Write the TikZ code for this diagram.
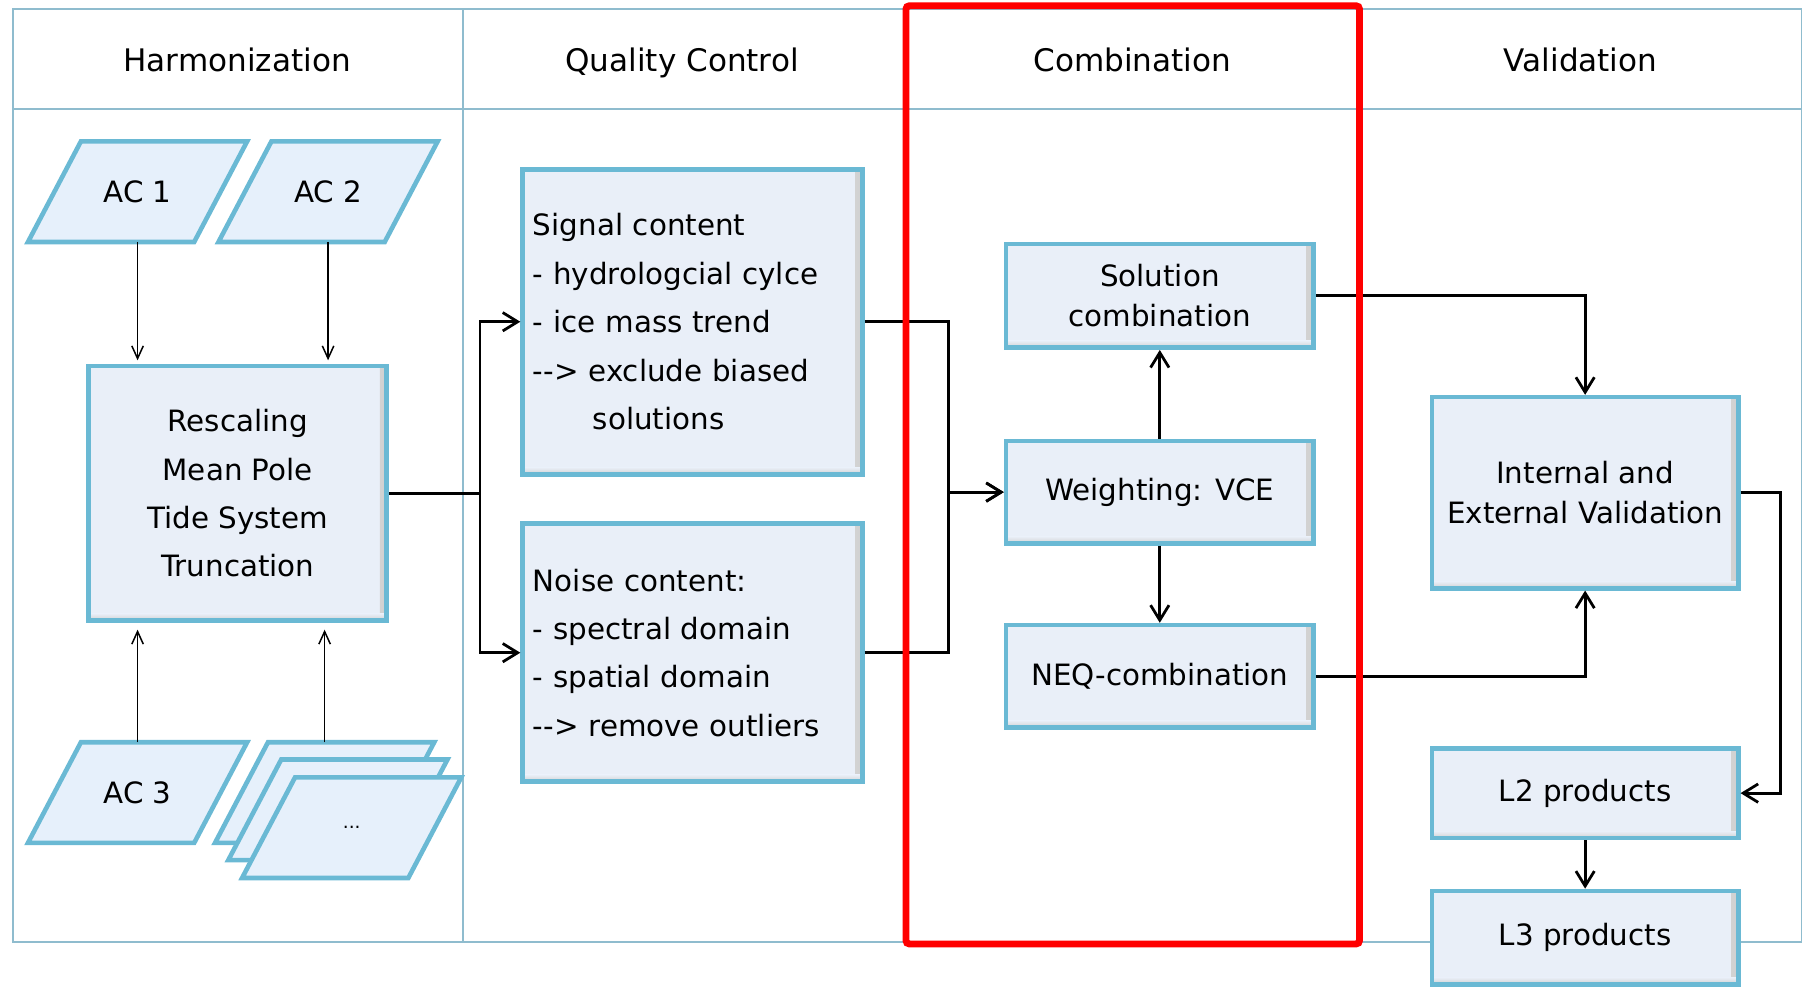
\documentclass[tikz,border=0pt]{standalone}
\usepackage{fontspec}
\newfontfamily\dvs{DejaVu Sans}
\usepackage{tikz}
\usetikzlibrary{arrows.meta,positioning,calc,backgrounds}

\definecolor{boxfill}{HTML}{E9EFF8}
\definecolor{boxline}{HTML}{6AB9D4}
\definecolor{parafill}{HTML}{E6F0FB}
\definecolor{laneline}{HTML}{8FBCCE}

\begin{document}
\begin{tikzpicture}[x=1pt, y=-1pt,
    box/.style={draw=boxline, line width=4pt, fill=boxfill, align=center, inner sep=6pt,
      font=\dvs\fontsize{25.5}{42}\selectfont,
      path picture={
        \shade[left color=boxfill, right color=black!18] ([xshift=-6pt]path picture bounding box.north east) rectangle (path picture bounding box.south east);
        \shade[top color=boxfill, bottom color=black!18] ([yshift=6pt]path picture bounding box.south west) rectangle (path picture bounding box.south east);}},
    tight/.style={font=\dvs\fontsize{25.5}{35}\selectfont},
    listbox/.style={box, align=left, text width=277pt, inner xsep=9pt},
    acnode/.style={minimum width=144pt, minimum height=87pt, inner sep=0pt, font=\dvs\fontsize{25.5}{30}\selectfont},
    para/.style={draw=boxline, line width=4pt, fill=parafill},
    hdr/.style={anchor=base, font=\dvs\fontsize{27}{32}\selectfont},
    lane/.style={draw=laneline, line width=1.5pt},
    thinarr/.style={line width=1.3pt, -{Straight Barb[length=11pt,width=10pt]}},
    arr/.style={line width=2.4pt, -{Straight Barb[length=13pt,width=16pt]}},
    redbox/.style={draw=red, line width=6pt, rounded corners=3pt}
  ]
    \useasboundingbox (0,0) rectangle (1568,859);

    \node[hdr] (hHarm) at (206,62) {Harmonization};
    \node[hdr] (hQual) at (592.5,62) {Quality Control};
    \node[hdr] (hComb) at (983.5,62) {Combination};
    \node[hdr] (hVal) at (1373,62) {Validation};

    \node[acnode] (ac1) at (119.5,166.5) {AC 1};
    \node[acnode] (ac2) at (285,166.5) {AC 2};
    \node[acnode] (ac3) at (119.5,688.5) {AC 3};
    \node[acnode] (acb) at (282,688.5) {};
    \node[acnode] (acm) at (293.5,703.5) {};
    \node[acnode, font=\dvs\fontsize{16}{18}\selectfont] (acf) at (305.5,719) {...};

    \node[box, minimum width=259pt, minimum height=221pt] (resc) at (206.5,428.5) {Rescaling\\Mean Pole\\Tide System\\Truncation};

    \node[listbox, minimum height=265pt] (sig) at (601.5,279.5) {Signal content\\- hydrologcial cylce\\- ice mass trend\\-{}-> exclude biased\\\hspace*{52pt}solutions};
    \node[listbox, minimum height=224pt, below=39pt of sig] (noise) {Noise content:\\- spectral domain\\- spatial domain\\-{}-> remove outliers};

    \node[box, minimum width=267pt, minimum height=89pt] (wgt) at (1007.5,427.5) {Weighting: VCE};
    \node[box, tight, minimum width=267pt, minimum height=90pt, above=77pt of wgt] (sol) {Solution\\combination};
    \node[box, minimum width=267pt, minimum height=89pt, below=67pt of wgt] (neq) {NEQ-combination};

    \node[box, tight, minimum width=266pt, minimum height=166pt] (val) at (1377,428) {Internal and\\External Validation};
    \node[box, minimum width=266pt, minimum height=78pt, below=135pt of val] (l2) {L2 products};
    \node[box, minimum width=266pt, minimum height=81pt, below=42pt of l2] (l3) {L3 products};

    \begin{scope}[on background layer]
      \draw[lane] (11,8) rectangle (1565,818) (11,95) -- (1565,95);
      \foreach \xl in {402,785,1180}
        \draw[lane] (\xl,8) -- (\xl,818);
      \foreach \n in {ac1,ac2,ac3,acb,acm,acf}
        \draw[para] ($(\n.south west)+(-23,0)$) -- ($(\n.south east)+(-23,0)$) -- ($(\n.north east)+(23,0)$) -- ($(\n.north west)+(23,0)$) -- cycle;
    \end{scope}

    \draw[thinarr, shorten >=3pt] (ac1) -- (ac1 |- resc.north);
    \draw[thinarr, shorten >=3pt] (ac2) -- (ac2 |- resc.north);
    \draw[thinarr, shorten >=6pt] (ac3) -- (ac3 |- resc.south);
    \draw[thinarr, shorten >=6pt] (acb) -- (acb |- resc.south);

    \draw[arr] (resc.east) -- ++(79,0) |- (sig.west);
    \draw[arr] (resc.east) -- ++(79,0) |- (noise.west);
    \draw[arr] (sig.east) -- ++(73,0) |- (wgt.west);
    \draw[arr] (noise.east) -- ++(73,0) |- (wgt.west);
    \draw[arr] (wgt) -- (sol);
    \draw[arr] (wgt) -- (neq);
    \draw[arr] (sol) -| (val);
    \draw[arr] (neq) -| (val);
    \draw[arr] (val.east) -- ++(35,0) |- (l2.east);
    \draw[arr] (l2) -- (l3);

    \draw[redbox] (787,5) rectangle (1181,820);
  \end{tikzpicture}
\end{document}
